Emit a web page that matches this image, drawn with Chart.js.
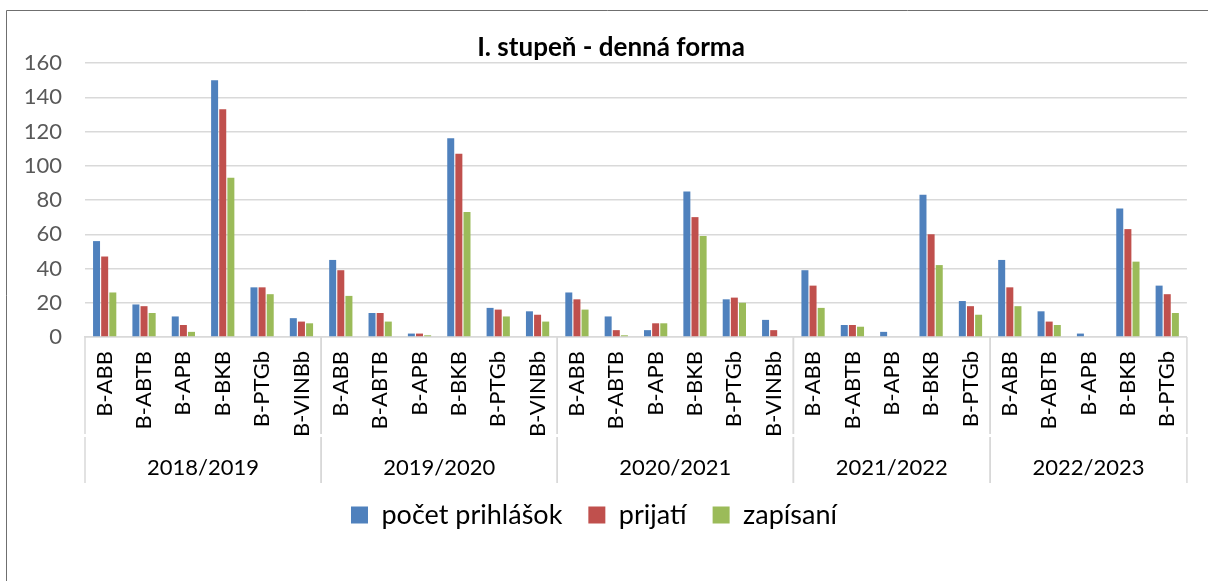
<!DOCTYPE html>
<html>
<head>
<meta charset="utf-8">
<script src="https://cdn.jsdelivr.net/npm/chart.js@4"></script>
<style>
  body { margin: 0; background: #fff; }
  #wrap { position: relative; width: 1208px; height: 581px; }
</style>
</head>
<body>
<div id="wrap"><canvas id="chart"></canvas></div>
<script>
// data
const years = ['2018/2019', '2019/2020', '2020/2021', '2021/2022', '2022/2023'];
const programs = [
    ['B-ABB', 'B-ABTB', 'B-APB', 'B-BKB', 'B-PTGb', 'B-VINBb'],
    ['B-ABB', 'B-ABTB', 'B-APB', 'B-BKB', 'B-PTGb', 'B-VINBb'],
    ['B-ABB', 'B-ABTB', 'B-APB', 'B-BKB', 'B-PTGb', 'B-VINBb'],
    ['B-ABB', 'B-ABTB', 'B-APB', 'B-BKB', 'B-PTGb'],
    ['B-ABB', 'B-ABTB', 'B-APB', 'B-BKB', 'B-PTGb']
];
const prihlasky = [56, 19, 12, 150, 29, 11, 45, 14, 2, 116, 17, 15, 26, 12, 4, 85, 22, 10, 39, 7, 3, 83, 21, 45, 15, 2, 75, 30];
const prijati   = [47, 18, 7, 133, 29, 9, 39, 14, 2, 107, 16, 13, 22, 4, 8, 70, 23, 4, 30, 7, 0, 60, 18, 29, 9, 0, 63, 25];
const zapisani  = [26, 14, 3, 93, 25, 8, 24, 9, 1, 73, 12, 9, 16, 1, 8, 59, 20, 0, 17, 6, 0, 42, 13, 18, 7, 0, 44, 14];
const yTicks = [0, 20, 40, 60, 80, 100, 120, 140, 160];
const chartTitle = 'I. stupeň - denná forma';

const FONT = 'Lato';
const GRID = '#d9d9d9';

// frame + title
const frame = {
    id: 'frame',
    beforeDraw(chart) {
        const ctx = chart.ctx;
        ctx.save();
        ctx.strokeStyle = '#6f6f6f';
        ctx.lineWidth = 1;
        ctx.beginPath();
        ctx.moveTo(6.5, 581);
        ctx.lineTo(6.5, 10.5);
        ctx.lineTo(1208, 10.5);
        ctx.stroke();
        ctx.fillStyle = '#000';
        ctx.font = `bold 26px ${FONT}`;
        ctx.textAlign = 'center';
        ctx.textBaseline = 'middle';
        ctx.fillText(chartTitle, 611, 48);
        ctx.restore();
    }
};

// second level of the category axis (years)
const groupAxis = {
    id: 'groupAxis',
    afterDraw(chart) {
        const { ctx, scales: { x } } = chart;
        const top = x.top, bottom = 483, gapTop = 434, gapBottom = 437;
        ctx.save();
        ctx.strokeStyle = GRID;
        ctx.lineWidth = 1.5;
        ctx.fillStyle = '#000';
        ctx.font = `22px ${FONT}`;
        ctx.textAlign = 'center';
        ctx.textBaseline = 'middle';
        let start = 0;
        years.forEach((year, g) => {
            const n = programs[g].length;
            const x0 = x.getPixelForValue(start - 0.5);
            const x1 = x.getPixelForValue(start + n - 0.5);
            [x0, x1].forEach(px => {
                ctx.beginPath();
                ctx.moveTo(px, top);
                ctx.lineTo(px, gapTop);
                ctx.moveTo(px, gapBottom);
                ctx.lineTo(px, bottom);
                ctx.stroke();
            });
            ctx.fillText(year, (x0 + x1) / 2, 468);
            start += n;
        });
        ctx.restore();
    }
};

new Chart(document.getElementById('chart'), {
    type: 'bar',
    data: {
        labels: programs.flat(),
        datasets: [
            { label: 'počet prihlášok', data: prihlasky, backgroundColor: '#4f81bd' },
            { label: 'prijatí', data: prijati, backgroundColor: '#c0504d' },
            { label: 'zapísaní', data: zapisani, backgroundColor: '#9bbb59' }
        ]
    },
    options: {
        responsive: true,
        maintainAspectRatio: false,
        animation: false,
        categoryPercentage: 0.62,
        barPercentage: 0.86,
        layout: { padding: { left: 0, right: 20, top: 63, bottom: 42.5 } },
        plugins: {
            title: { display: false },
            tooltip: { enabled: false },
            legend: {
                position: 'bottom',
                labels: {
                    boxWidth: 17,
                    boxHeight: 17,
                    padding: 26,
                    color: '#000',
                    font: { family: FONT, size: 27 }
                }
            }
        },
        scales: {
            x: {
                grid: { display: false, drawTicks: false },
                border: { color: GRID, width: 1.5 },
                ticks: {
                    autoSkip: false,
                    minRotation: 90,
                    maxRotation: 90,
                    padding: 14,
                    color: '#000',
                    font: { family: FONT, size: 22 }
                },
                afterFit(scale) { scale.height = 138.5; }
            },
            y: {
                min: 0,
                max: 160,
                afterBuildTicks(scale) { scale.ticks = yTicks.map(v => ({ value: v })); },
                grid: { color: GRID, lineWidth: 1.5, drawTicks: false },
                border: { display: false },
                ticks: {
                    padding: 23,
                    color: '#595959',
                    font: { family: FONT, size: 22 }
                },
                afterFit(scale) { scale.width = 85; }
            }
        }
    },
    plugins: [frame, groupAxis]
});
</script>
</body>
</html>
